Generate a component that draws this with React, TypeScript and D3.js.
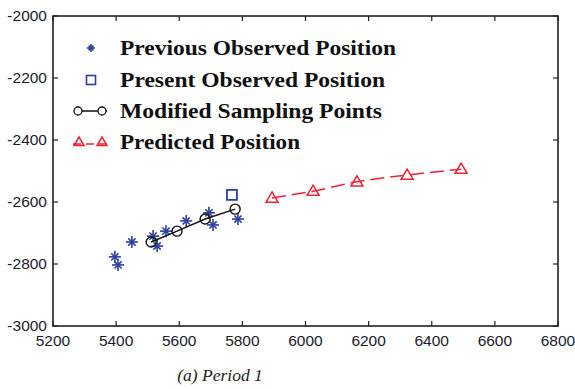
import { useRef, useEffect } from 'react'
import * as d3 from 'd3'

// Previous observed positions (asterisks)
const prevX = [5396, 5406, 5450, 5517, 5530, 5558, 5622, 5694, 5707, 5786]
const prevY = [-2777, -2803, -2729, -2710, -2742, -2694, -2661, -2635, -2674, -2655]

// Present observed position (square)
const presX = [5767]
const presY = [-2577]

// Modified sampling points (circles joined by a solid line)
const modX = [5511, 5593, 5682, 5777]
const modY = [-2729, -2694, -2655, -2623]

// Predicted positions (triangles, dashed line)
const predX = [5894, 6024, 6163, 6322, 6493]
const predY = [-2587, -2565, -2535, -2513, -2494]

const xTicks = [5200, 5400, 5600, 5800, 6000, 6200, 6400, 6600, 6800]
const yTicks = [-2000, -2200, -2400, -2600, -2800, -3000]

const legendLabels = [
  'Previous Observed Position',
  'Present Observed Position',
  'Modified Sampling Points',
  'Predicted Position',
]
// text widths
const legendWidths = [276, 265, 262, 180]

const BLUE = '#2b3f9e'
const RED = '#ee2233'

export default function App() {
  const svgRef = useRef<SVGSVGElement>(null)

  useEffect(() => {
    if (!svgRef.current) return
    const svg = d3.select(svgRef.current)
    svg.selectAll('*').remove()

    const width = 575
    const height = 389
    const margin = { top: 16, right: 17, bottom: 63, left: 53 }

    const x = d3.scaleLinear().domain([5200, 6800]).range([margin.left, width - margin.right])
    const y = d3.scaleLinear().domain([-3000, -2000]).range([height - margin.bottom, margin.top])

    const tickFont = '"Liberation Sans", Arial, sans-serif'
    const serif = '"Liberation Serif", "Times New Roman", serif'

    // frame
    svg.append('rect')
      .attr('x', x(5200)).attr('y', y(-2000))
      .attr('width', x(6800) - x(5200)).attr('height', y(-3000) - y(-2000))
      .attr('fill', '#fff').attr('stroke', '#222').attr('stroke-width', 1.6)

    // inward ticks on all four sides
    const tl = 5
    const tickG = svg.append('g').attr('stroke', '#222').attr('stroke-width', 1.2)
    xTicks.forEach(t => {
      tickG.append('line').attr('x1', x(t)).attr('x2', x(t)).attr('y1', y(-3000)).attr('y2', y(-3000) - tl)
      tickG.append('line').attr('x1', x(t)).attr('x2', x(t)).attr('y1', y(-2000)).attr('y2', y(-2000) + tl)
    })
    yTicks.forEach(t => {
      tickG.append('line').attr('x1', x(5200)).attr('x2', x(5200) + tl).attr('y1', y(t)).attr('y2', y(t))
      tickG.append('line').attr('x1', x(6800)).attr('x2', x(6800) - tl).attr('y1', y(t)).attr('y2', y(t))
    })

    // tick labels
    svg.selectAll('.xt').data(xTicks).join('text')
      .attr('class', 'xt')
      .attr('x', d => x(d)).attr('y', y(-3000) + 20)
      .attr('text-anchor', 'middle')
      .style('font-family', tickFont).style('font-size', '15.5px').style('fill', '#1a1a2a')
      .text(d => d)

    svg.selectAll('.yt').data(yTicks).join('text')
      .attr('class', 'yt')
      .attr('x', x(5200) - 6).attr('y', d => y(d) + 5)
      .attr('text-anchor', 'end')
      .style('font-family', tickFont).style('font-size', '15.5px').style('fill', '#1a1a2a')
      .text(d => d)

    // marker helpers
    const star = (g: d3.Selection<SVGGElement, unknown, null, undefined>, cx: number, cy: number, s = 6) => {
      const p = g.append('g').attr('stroke', BLUE).attr('stroke-width', 1.6)
      p.append('line').attr('x1', cx - s).attr('x2', cx + s).attr('y1', cy).attr('y2', cy)
      p.append('line').attr('x1', cx).attr('x2', cx).attr('y1', cy - s).attr('y2', cy + s)
      const d = s * 0.6
      p.append('line').attr('x1', cx - d).attr('x2', cx + d).attr('y1', cy - d).attr('y2', cy + d)
      p.append('line').attr('x1', cx - d).attr('x2', cx + d).attr('y1', cy + d).attr('y2', cy - d)
    }
    const tri = (g: d3.Selection<SVGGElement, unknown, null, undefined>, cx: number, cy: number, s = 6) => {
      g.append('path')
        .attr('d', `M${cx},${cy - s} L${cx + s},${cy + s * 0.7} L${cx - s},${cy + s * 0.7} Z`)
        .attr('fill', 'none').attr('stroke', RED).attr('stroke-width', 1.5)
    }

    const plot = svg.append('g')

    // predicted dashed line
    const predLine = d3.line<number>().x((_, i) => x(predX[i])).y((_, i) => y(predY[i])).curve(d3.curveMonotoneX)
    plot.append('path').datum(predX).attr('d', predLine)
      .attr('fill', 'none').attr('stroke', RED).attr('stroke-width', 1.5).attr('stroke-dasharray', '14,6')
    predX.forEach((v, i) => tri(plot, x(v), y(predY[i])))

    // previous observed stars
    prevX.forEach((v, i) => star(plot, x(v), y(prevY[i])))

    // modified sampling line + circles
    const modLine = d3.line<number>().x((_, i) => x(modX[i])).y((_, i) => y(modY[i]))
    plot.append('path').datum(modX).attr('d', modLine)
      .attr('fill', 'none').attr('stroke', '#111').attr('stroke-width', 1.5)
    modX.forEach((v, i) => {
      plot.append('circle').attr('cx', x(v)).attr('cy', y(modY[i])).attr('r', 5)
        .attr('fill', 'none').attr('stroke', '#111').attr('stroke-width', 1.4)
    })

    // present observed square
    presX.forEach((v, i) => {
      plot.append('rect').attr('x', x(v) - 5).attr('y', y(presY[i]) - 5)
        .attr('width', 10).attr('height', 10)
        .attr('fill', 'none').attr('stroke', BLUE).attr('stroke-width', 1.8)
    })

    // legend
    const lg = svg.append('g')
    const rowY = [48, 80, 111, 142]
    const symX = 91
    star(lg, symX, rowY[0], 4)
    lg.append('rect').attr('x', symX - 4.5).attr('y', rowY[1] - 4.5).attr('width', 9).attr('height', 9)
      .attr('fill', 'none').attr('stroke', BLUE).attr('stroke-width', 1.6)
    lg.append('line').attr('x1', symX - 17).attr('x2', symX + 16).attr('y1', rowY[2]).attr('y2', rowY[2])
      .attr('stroke', '#111').attr('stroke-width', 1.6)
    ;[symX - 13, symX + 11].forEach(cx => lg.append('circle').attr('cx', cx).attr('cy', rowY[2]).attr('r', 4)
      .attr('fill', '#fff').attr('stroke', '#111').attr('stroke-width', 1.3))
    lg.append('line').attr('x1', symX - 18).attr('x2', symX + 17).attr('y1', rowY[3] + 2).attr('y2', rowY[3] + 2)
      .attr('stroke', RED).attr('stroke-width', 1.5).attr('stroke-dasharray', '8,5')
    ;[symX - 12, symX + 11].forEach(cx => tri(lg, cx, rowY[3], 5))

    lg.selectAll('.lt').data(legendLabels).join('text')
      .attr('class', 'lt')
      .attr('x', 120).attr('y', (_, i) => rowY[i] + 7)
      .attr('textLength', (_, i) => legendWidths[i])
      .attr('lengthAdjust', 'spacingAndGlyphs')
      .style('font-family', serif).style('font-weight', 'bold').style('font-size', '21px').style('fill', '#111')
      .text(d => d)

    // caption
    svg.append('text')
      .attr('x', 220).attr('y', 381)
      .attr('text-anchor', 'middle')
      .style('font-family', serif).style('font-style', 'italic').style('font-size', '17.5px').style('fill', '#222')
      .text('(a) Period 1')
  }, [])

  return (
    <div style={{ position: 'absolute', left: 0, top: 0 }}>
      <svg ref={svgRef} width={575} height={389} style={{ display: 'block', background: '#fff' }} />
    </div>
  )
}
